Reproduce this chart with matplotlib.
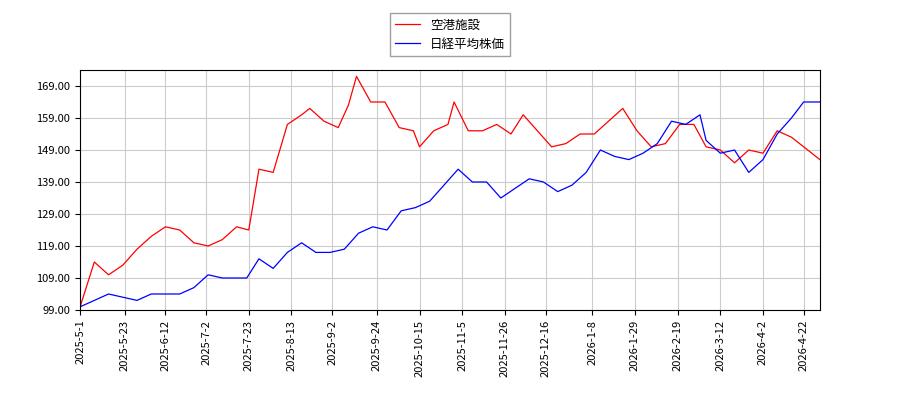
import matplotlib
matplotlib.use("Agg")
import matplotlib.pyplot as plt
import pandas as pd

plt.rcParams['font.family'] = ['Noto Sans CJK JP', 'DejaVu Sans']

red_dates = ["2025-05-01","2025-05-08","2025-05-15","2025-05-22","2025-05-29","2025-06-05","2025-06-12","2025-06-19","2025-06-26","2025-07-03","2025-07-10","2025-07-17","2025-07-23","2025-07-28","2025-08-04","2025-08-11","2025-08-18","2025-08-22","2025-08-29","2025-09-05","2025-09-10","2025-09-14","2025-09-21","2025-09-28","2025-10-05","2025-10-12","2025-10-15","2025-10-22","2025-10-29","2025-11-01","2025-11-08","2025-11-15","2025-11-22","2025-11-29","2025-12-05","2025-12-12","2025-12-19","2025-12-26","2026-01-02","2026-01-09","2026-01-16","2026-01-23","2026-01-30","2026-02-06","2026-02-13","2026-02-20","2026-02-27","2026-03-05","2026-03-12","2026-03-19","2026-03-26","2026-04-02","2026-04-09","2026-04-16","2026-04-22","2026-04-30"]
red_vals = [100,114,110,113,118,122,125,124,120,119,121,125,124,143,142,157,160,162,158,156,163,172,164,164,156,155,150,155,157,164,155,155,157,154,160,155,150,151,154,154,158,162,155,150,151,157,157,150,149,145,149,148,155,153,150,146]

blue_dates = ["2025-05-01","2025-05-15","2025-05-29","2025-06-05","2025-06-12","2025-06-19","2025-06-26","2025-07-03","2025-07-10","2025-07-17","2025-07-22","2025-07-28","2025-08-04","2025-08-11","2025-08-18","2025-08-25","2025-09-01","2025-09-08","2025-09-15","2025-09-22","2025-09-29","2025-10-06","2025-10-13","2025-10-20","2025-10-27","2025-11-03","2025-11-10","2025-11-17","2025-11-24","2025-12-01","2025-12-08","2025-12-15","2025-12-22","2025-12-29","2026-01-05","2026-01-12","2026-01-19","2026-01-26","2026-02-02","2026-02-09","2026-02-16","2026-02-23","2026-03-02","2026-03-05","2026-03-12","2026-03-19","2026-03-26","2026-04-02","2026-04-09","2026-04-16","2026-04-22","2026-04-30"]
blue_vals = [100,104,102,104,104,104,106,110,109,109,109,115,112,117,120,117,117,118,123,125,124,130,131,133,138,143,139,139,134,137,140,139,136,138,142,149,147,146,148,151,158,157,160,152,148,149,142,146,154,159,164,164]

tick_labels = ["2025-5-1","2025-5-23","2025-6-12","2025-7-2","2025-7-23","2025-8-13","2025-9-2","2025-9-24","2025-10-15","2025-11-5","2025-11-26","2025-12-16","2026-1-8","2026-1-29","2026-2-19","2026-3-12","2026-4-2","2026-4-22"]

fig = plt.figure(figsize=(9, 4), dpi=100)
ax = fig.add_axes([0.089, 0.225, 0.822, 0.6])
ax.plot(pd.to_datetime(red_dates), red_vals, color='red', lw=0.9, label='空港施設')
ax.plot(pd.to_datetime(blue_dates), blue_vals, color='blue', lw=0.9, label='日経平均株価')
ax.set_ylim(99, 174)
ax.set_yticks([99,109,119,129,139,149,159,169])
ax.yaxis.set_major_formatter(matplotlib.ticker.FormatStrFormatter('%.2f'))
ax.set_xlim(pd.Timestamp("2025-05-01"), pd.Timestamp("2026-04-30"))
ax.set_xticks(pd.to_datetime(tick_labels))
ax.set_xticklabels(tick_labels, rotation=90, fontsize=8)
ax.tick_params(axis='y', labelsize=8)
ax.grid(True, color='#cccccc', lw=0.8)
fig.legend(loc='upper center', bbox_to_anchor=(0.5, 0.982), fontsize=9, fancybox=False, edgecolor='#888888')
fig.savefig("out.png")
